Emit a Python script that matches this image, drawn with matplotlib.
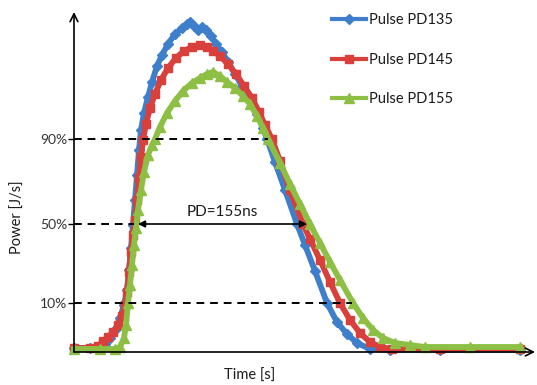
import matplotlib
matplotlib.use("Agg")
import matplotlib.pyplot as plt
from matplotlib.lines import Line2D

plt.rcParams["font.family"] = ["Lato", "DejaVu Sans"]

# time / power in arbitrary units
t_pd135 = [0, 16, 26, 31, 36, 41, 46, 50, 53, 55, 57, 59, 61, 63, 65, 67, 70, 74, 78, 83,
           88, 94, 101, 108, 113, 116, 120, 124, 128, 132, 137, 142, 148, 154, 161, 168,
           176, 183, 189, 193, 201, 211, 223, 231, 241, 253, 263, 273, 283, 296, 316, 366, 446]
p_pd135 = [4, 4, 5, 8, 14, 22, 34, 47, 62, 82, 104, 127, 152, 177, 202, 222, 239, 255, 270, 286,
           297, 308, 318, 324, 328, 330, 326, 322, 325, 322, 316, 308, 300, 290, 278, 266,
           252, 238, 224, 213, 190, 162, 128, 107, 81, 49, 30, 18, 9, 3, 2, 2, 2]

t_pd145 = [0, 16, 24, 29, 34, 39, 44, 48, 51, 53, 55, 57, 59, 61, 63, 65, 67, 69, 72, 76,
           81, 87, 94, 102, 110, 118, 126, 133, 139, 146, 154, 162, 170, 178, 185, 191,
           198, 206, 216, 229, 236, 246, 256, 266, 276, 286, 296, 306, 318, 366, 446]
p_pd145 = [4, 4, 6, 11, 15, 20, 27, 36, 47, 60, 80, 100, 117, 132, 152, 174, 195, 212, 228, 244,
           258, 272, 284, 294, 301, 305, 307, 305, 301, 296, 288, 278, 266, 254, 240, 227,
           213, 191, 162, 128, 113, 92, 70, 49, 32, 19, 10, 5, 3, 3, 3]

t_pd155 = [0, 26, 41, 46, 50, 52, 54, 56, 58, 60, 62, 64, 67, 70, 74, 78, 81, 86, 93, 101,
           109, 118, 126, 133, 139, 146, 153, 161, 169, 176, 183, 189, 194, 206, 216, 226,
           236, 246, 256, 266, 279, 289, 299, 309, 321, 336, 351, 396, 446]
p_pd155 = [3, 3, 3, 5, 14, 27, 49, 67, 87, 107, 124, 142, 162, 180, 197, 207, 213, 225, 239, 251,
           261, 269, 274, 278, 280, 276, 270, 264, 256, 248, 236, 224, 213, 189, 168, 148,
           128, 109, 90, 72, 49, 34, 22, 14, 9, 7, 5, 5, 5]

SERIES = [
    ("Pulse PD135", t_pd135, p_pd135, "#3E7FCB", "D", 5.5),
    ("Pulse PD145", t_pd145, p_pd145, "#D9403C", "s", 6),
    ("Pulse PD155", t_pd155, p_pd155, "#8DBF45", "^", 7),
]

level_names = ["90%", "50%", "10%"]
level_values = [213, 128, 49]
level_ends = [194, 60, 278]

pd_start, pd_end = 64, 233

fig = plt.figure(figsize=(5.37, 3.85), dpi=100)
ax = fig.add_axes([74 / 537, 33 / 385, 461 / 537, 340 / 385])
ax.set_xlim(0, 461)
ax.set_ylim(0, 340)
for side in ax.spines.values():
    side.set_visible(False)

for name, t, p, color, marker, ms in SERIES:
    ax.plot(t, p, color=color, lw=4.2, marker=marker, ms=ms, mec=color, mfc=color,
            solid_joinstyle="round", label=name, clip_on=False)

for value, end in zip(level_values, level_ends):
    ax.plot([0, end], [value, value], color="black", lw=1.4, ls=(0, (4, 3)), zorder=5)

ax.set_xticks([])
ax.set_yticks(level_values)
ax.set_yticklabels(level_names, fontsize=10, color="#333333")
ax.tick_params(axis="y", length=4, width=1, direction="out", pad=1)

# axis arrows
ax.annotate("", xy=(461, 0), xytext=(0, 0),
            arrowprops=dict(arrowstyle="->", lw=1.2, color="black", mutation_scale=14,
                            shrinkA=0, shrinkB=0), annotation_clip=False)
ax.annotate("", xy=(0, 340), xytext=(0, 0),
            arrowprops=dict(arrowstyle="->", lw=1.2, color="black", mutation_scale=14,
                            shrinkA=0, shrinkB=0), annotation_clip=False)

# pulse duration arrow
ax.annotate("", xy=(pd_start, 128), xytext=(pd_end, 128),
            arrowprops=dict(arrowstyle="<|-|>", lw=1.2, color="black", mutation_scale=10,
                            shrinkA=0, shrinkB=0), zorder=6)
ax.text((pd_start + pd_end) / 2, 140, "PD=155ns", ha="center", va="center",
        fontsize=11, color="#1a1a1a")

fig.text(250 / 537, 1 - 376 / 385, "Time [s]", ha="center", va="center", fontsize=10.5,
         color="#1a1a1a")
fig.text(18 / 537, 1 - 217 / 385, "Power [J/s]", ha="center", va="center", rotation=90,
         fontsize=10.5, color="#1a1a1a")

handles = [Line2D([0], [0], color=c, lw=3, marker=m, ms=ms, mec=c, mfc=c)
           for _, _, _, c, m, ms in SERIES]
fig.legend(handles, [s[0] for s in SERIES], loc="upper left",
           bbox_to_anchor=(325 / 537, 1 - 6 / 385), frameon=False, fontsize=10.5,
           handlelength=2.3, handletextpad=0.2, labelspacing=1.75, numpoints=1,
           borderpad=0, labelcolor="#1a1a1a")

fig.savefig("out.png", dpi=100)
